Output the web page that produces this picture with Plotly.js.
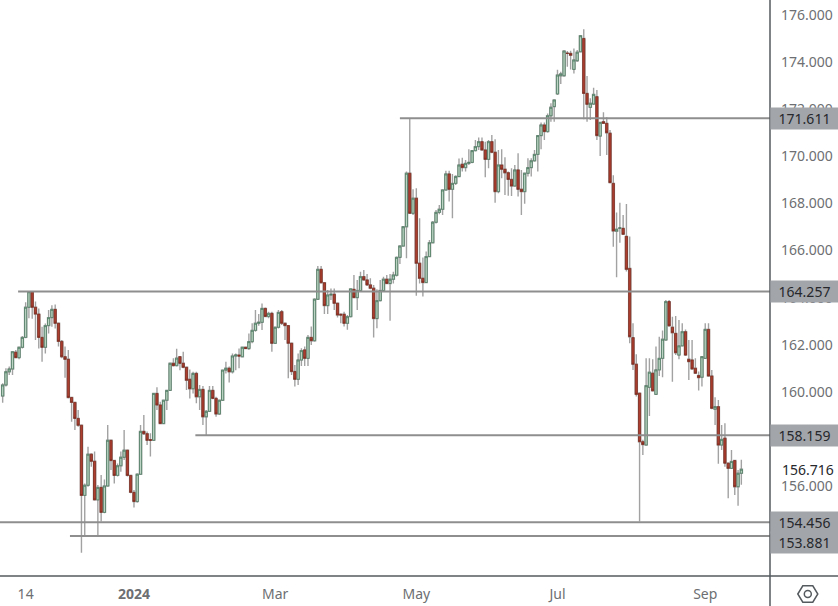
<!DOCTYPE html>
<html><head><meta charset="utf-8">
<script src="https://cdn.plot.ly/plotly-3.0.1.min.js"></script>
<style>html,body{margin:0;padding:0;background:#fff}#c{width:838px;height:606px}</style>
</head><body><div id="c"></div>
<script>
const opens=[159.82,160.29,160.85,160.97,161.68,161.45,161.89,162.31,163.59,164.25,163.59,163.30,162.31,161.89,162.81,163.15,163.5,162.91,162.14,161.49,161.38,159.76,159.55,158.87,158.58,155.6,156.03,157.35,157.05,155.41,155.94,154.88,156.0,157.94,157.08,156.45,156.86,157.22,157.52,156.45,155.73,155.34,156.5,158.32,158.22,157.97,157.94,159.93,159.44,158.65,159.64,160.06,161.21,161.11,161.49,161.21,161.04,160.53,160.13,160.78,159.79,160.10,158.94,159.17,160.06,159.72,159.06,159.64,160.92,161.0,160.85,161.52,161.56,161.49,161.89,161.84,162.13,162.61,162.91,162.95,163.54,163.2,163.33,162.06,162.74,163.40,162.91,162.81,162.06,160.86,160.53,161.35,161.78,161.42,162.31,162.17,163.93,165.2,164.63,163.66,164.11,164.14,163.76,163.29,163.29,162.91,163.19,164.35,164.0,164.3,164.89,164.75,164.54,164.4,163.11,163.87,164.3,164.78,164.6,164.78,164.95,165.71,166.19,167.01,169.28,167.58,168.22,165.46,164.82,164.64,165.74,166.33,167.2,167.62,167.75,168.57,169.25,168.6,168.85,169.14,169.66,169.52,169.7,169.74,170.24,170.41,170.62,170.27,169.87,170.62,170.17,168.5,169.63,169.45,169.3,169.02,168.74,169.42,168.6,168.5,169.28,169.52,169.81,170.08,170.88,171.33,171.05,171.72,172.11,172.65,173.42,173.42,174.38,174.37,173.69,174.06,174.44,175.0,172.67,172.08,172.22,172.53,170.86,171.47,171.4,170.98,168.85,166.82,166.94,166.94,166.6,165.24,162.3,161.17,159.94,157.88,157.74,160.19,160.79,159.89,160.93,161.42,162.2,163.83,162.74,162.48,161.56,161.95,162.55,161.38,161.35,161.0,160.69,160.62,161.42,162.65,160.67,159.26,159.37,157.74,158.03,156.97,156.75,157.08,155.97,156.54];
const highs=[160.36,161.0,161.07,161.73,161.77,161.92,162.37,163.80,164.25,164.27,163.83,163.54,162.76,162.9,163.47,163.68,163.71,162.93,162.2,161.92,161.77,159.79,159.58,159.23,158.59,156.11,157.67,157.39,157.46,156.04,156.47,156.28,158.59,157.95,157.1,156.96,157.46,158.38,157.53,156.47,155.83,156.54,158.59,159.01,158.31,158.24,159.94,160.19,159.58,159.65,160.08,161.24,161.42,161.83,161.52,161.7,161.07,160.95,160.85,160.85,160.29,160.25,159.23,160.25,160.25,159.79,159.65,160.95,161.28,161.07,161.63,161.63,161.84,161.92,161.92,162.48,162.91,163.47,163.3,163.75,163.58,163.4,163.4,162.75,163.47,163.47,162.94,162.84,162.09,161.14,161.63,161.85,161.92,162.41,162.77,163.97,165.34,165.34,164.66,164.32,164.39,164.39,163.78,163.33,163.4,163.26,164.39,164.96,164.75,165.1,165.17,165.0,164.82,164.54,164.35,164.75,164.89,164.96,165.0,165.1,165.74,166.22,167.04,169.35,171.61,168.6,168.64,167.37,165.7,165.96,166.45,167.25,167.72,167.93,168.6,169.39,169.39,169.25,169.2,169.91,169.94,169.84,170.3,170.27,170.69,170.8,170.8,170.62,170.69,170.9,170.72,170.27,170.3,169.96,169.35,169.49,169.63,170.13,169.42,169.31,169.92,169.92,170.27,170.9,171.43,171.43,171.82,172.25,172.42,173.67,173.59,174.5,174.47,174.48,174.58,174.51,175.15,175.39,173.41,172.46,172.91,172.81,171.47,171.87,171.66,171.12,169.2,167.61,168.03,167.51,167.97,166.59,162.91,161.59,159.95,157.96,161.42,161.42,161.38,161.92,162.34,162.6,163.9,163.9,163.19,163.22,163.05,162.91,162.65,162.2,162.2,161.42,160.86,161.52,162.91,162.91,160.93,159.77,159.65,158.59,158.66,157.0,157.53,157.11,156.68,157.11];
const lows=[159.54,160.22,160.71,160.71,161.42,161.38,161.84,162.27,163.12,163.1,162.2,161.84,161.28,161.63,162.48,162.76,162.69,161.92,161.42,160.6,159.72,158.73,158.38,158.52,153.17,153.88,155.97,156.82,155.38,153.88,154.49,154.84,155.97,156.68,156.11,156.4,156.61,157.1,156.4,155.69,155.09,155.29,156.47,158.17,157.74,157.25,157.92,159.23,158.63,158.63,159.23,160.05,161.07,161.07,160.92,161.0,160.08,159.72,159.93,159.51,159.23,158.59,158.12,159.16,159.68,158.94,159.01,159.62,160.78,160.39,160.78,160.92,161.0,161.46,161.83,161.77,162.06,162.55,162.8,162.62,163.2,163.12,161.7,162.03,162.69,162.84,162.2,160.57,160.71,160.22,160.29,161.1,161.1,161.1,161.99,162.13,163.9,164.61,163.3,163.3,163.9,163.47,163.16,162.91,162.77,162.63,163.16,163.97,163.47,164.25,164.72,164.49,164.35,162.31,162.7,163.83,164.25,164.58,163.02,164.6,164.9,165.43,166.17,165.67,167.57,167.51,164.08,164.6,164.05,164.61,165.71,166.31,167.15,167.54,167.51,168.54,168.08,167.37,168.78,169.11,169.35,169.35,169.63,169.7,170.2,170.27,170.24,169.11,169.49,170.13,168.03,168.43,169.07,168.36,168.33,168.31,168.71,168.29,167.51,167.98,169.14,169.14,169.77,169.35,170.3,170.69,171.0,171.47,171.47,172.6,173.07,173.38,173.8,173.69,173.52,174.0,174.41,171.57,171.47,171.54,172.18,170.69,170.01,171.37,170.06,168.88,166.16,164.86,166.33,166.69,165.11,162.06,160.93,159.8,154.49,157.32,157.72,158.97,160.04,159.87,160.67,160.62,162.17,162.77,160.43,161.56,161.38,161.92,161.52,160.5,160.97,160.76,160.05,160.22,161.39,160.67,159.26,158.59,156.94,157.53,156.82,155.48,156.72,155.62,155.16,156.05];
const closes=[160.29,160.85,160.97,161.70,161.45,161.89,162.31,163.59,164.25,163.59,163.30,162.31,161.89,162.81,163.15,163.5,162.91,162.14,161.49,161.38,159.76,159.55,158.87,158.58,155.6,156.03,157.35,157.05,155.41,155.94,154.88,156.0,157.94,157.08,156.45,156.86,157.22,157.52,156.45,155.73,155.34,156.5,158.32,158.22,157.94,157.94,159.93,159.44,158.65,159.64,160.06,161.21,161.11,161.43,161.21,161.04,160.49,160.13,160.78,159.79,160.10,158.94,159.17,160.06,159.72,159.06,159.64,160.92,161.0,160.85,161.52,161.56,161.52,161.89,161.84,162.13,162.61,162.91,162.95,163.54,163.2,163.33,162.06,162.74,163.37,162.91,162.81,162.06,160.86,160.53,161.35,161.75,161.42,162.31,162.17,163.93,165.2,164.63,163.66,164.11,164.14,163.76,163.26,163.26,162.91,163.19,164.37,164.0,164.3,164.89,164.75,164.54,164.4,163.11,163.87,164.3,164.78,164.6,164.78,164.96,165.71,166.19,167.01,169.28,167.58,168.22,165.46,164.82,164.64,165.74,166.33,167.2,167.62,167.75,168.57,169.25,168.6,168.85,169.14,169.63,169.52,169.7,169.74,170.24,170.41,170.62,170.27,169.87,170.62,170.17,168.5,169.63,169.45,169.3,169.02,168.74,169.42,168.6,168.5,169.28,169.52,169.81,170.08,170.88,171.33,171.05,171.72,172.08,172.39,173.45,173.5,174.47,174.37,174.29,174.09,174.42,175.12,172.67,172.21,172.25,172.63,170.88,171.44,171.4,171.0,168.88,166.83,166.9,166.96,166.69,165.2,162.34,161.17,159.89,157.88,157.76,160.26,160.83,160.04,160.93,161.42,162.23,163.83,162.8,162.51,161.66,161.95,162.55,161.56,161.28,160.97,160.79,160.6,161.49,162.65,160.67,159.3,159.37,157.74,157.98,156.97,156.75,157.04,155.97,156.54,156.71];
const tickIndex=[8,41,84,127,170,215];
const tickLabels=["14","<b>2024</b>","Mar","May","Jul","Sep"];
const levelValues=[171.611,164.257,158.159,154.456,153.881];
const levelStart=[122,5.7,59.7,0.19,21.5];
const levelText=["171.611","164.257","158.159","154.456","153.881"];
const levelShift=[0,0,0,0,-7];
const lastPrice=156.716;
const x=opens.map((_,i)=>i+1);
const upFill="#bcd4c3",upLine="#4a7a60",dnFill="#ad3f30",dnLine="#7d2c20",wick="#a2a2a2",axisCol="#555a5e",lvl="#8e8e8e",tag="#a2a5aa";
const wicks={type:"candlestick",x,open:opens,high:highs,low:lows,close:closes,
  increasing:{line:{color:wick,width:1.4},fillcolor:wick},decreasing:{line:{color:wick,width:1.4},fillcolor:wick},hoverinfo:"skip",showlegend:false};
const bodies={type:"candlestick",x,open:opens,close:closes,
  high:opens.map((o,i)=>Math.max(o,closes[i])),low:opens.map((o,i)=>Math.min(o,closes[i])),
  increasing:{line:{color:upLine,width:0.8},fillcolor:upFill},decreasing:{line:{color:dnLine,width:0.8},fillcolor:dnFill},hoverinfo:"skip",showlegend:false};
const W=770,H=576;
const px=p=>p/W, py=p=>(H-p)/H;
const hexPts=[[797.8,594],[802.8,585.8],[812.8,585.8],[817.8,594],[812.8,602.2],[802.8,602.2]];
const shapes=levelValues.map((v,i)=>({type:"line",xref:"x",yref:"y",x0:levelStart[i],x1:234.73,y0:v,y1:v,line:{color:lvl,width:2},layer:"above"}));
shapes.push({type:"line",xref:"paper",yref:"paper",x0:1,x1:1,y0:py(0),y1:py(606),line:{color:axisCol,width:1.5}});
shapes.push({type:"line",xref:"paper",yref:"paper",x0:0,x1:px(838),y0:0,y1:0,line:{color:axisCol,width:1.5}});
shapes.push({type:"path",xref:"paper",yref:"paper",path:"M"+hexPts.map(p=>px(p[0])+","+py(p[1])).join("L")+"Z",line:{color:axisCol,width:1.5}});
shapes.push({type:"circle",xref:"paper",yref:"paper",x0:px(804.3),x1:px(811.3),y0:py(597.5),y1:py(590.5),line:{color:axisCol,width:1.5}});
const anns=levelValues.map((v,i)=>({xref:"paper",yref:"y",x:px(804.5),y:v,yshift:levelShift[i],text:levelText[i],showarrow:false,width:67,height:21,bgcolor:tag,borderpad:0,font:{family:"Noto Sans",size:14,color:"#26282c"},xanchor:"center",yanchor:"middle"}));
anns.push({xref:"paper",yref:"y",x:px(808),y:lastPrice,text:lastPrice.toFixed(3),showarrow:false,font:{family:"Noto Sans",size:14,color:"#26282c"},xanchor:"center",yanchor:"middle"});
Plotly.newPlot("c",[wicks,bodies],{
  width:838,height:606,margin:{l:0,r:68,t:0,b:30,pad:0},
  paper_bgcolor:"#fff",plot_bgcolor:"#fff",showlegend:false,boxgap:0.05,
  font:{family:"Noto Sans",size:14,color:"#6d6f72"},
  xaxis:{range:[0.19,234.73],tickmode:"array",tickvals:tickIndex,ticktext:tickLabels,showgrid:false,zeroline:false,showline:false,ticks:"",rangeslider:{visible:false},tickfont:{size:14,color:"#6d6f72"},ticklabelstandoff:8,fixedrange:true},
  yaxis:{side:"right",range:[152.178,176.637],tickmode:"linear",tick0:156,dtick:2,tickformat:".3f",showgrid:false,zeroline:false,showline:false,ticks:"",tickfont:{size:14,color:"#6d6f72"},ticklabelstandoff:10,fixedrange:true},
  shapes,annotations:anns
},{displayModeBar:false,staticPlot:true});
</script></body></html>
